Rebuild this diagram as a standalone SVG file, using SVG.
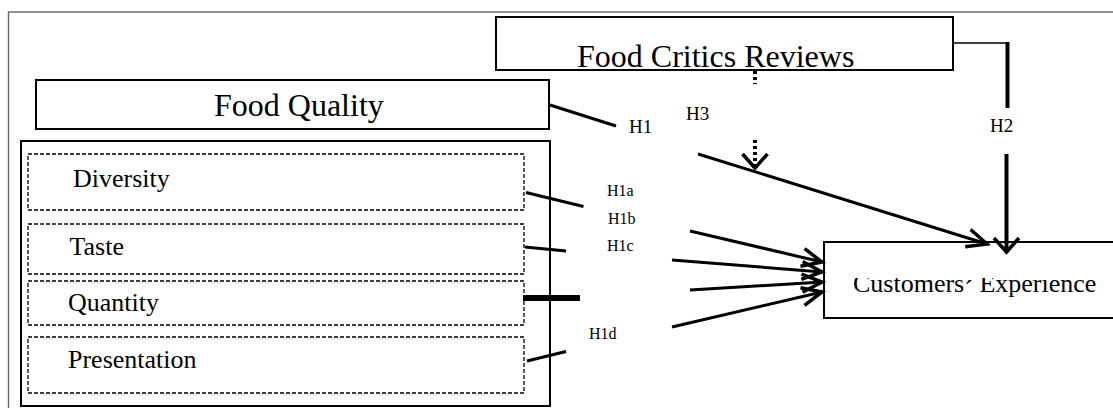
<svg xmlns="http://www.w3.org/2000/svg" width="1113" height="408" viewBox="0 0 1113 408">
<style>
.box{fill:#fff;stroke:#000;stroke-width:2}
.dash{fill:none;stroke:#000;stroke-width:1.3;stroke-dasharray:4 2}
.t32{font-family:"Liberation Serif","Times New Roman",serif;font-size:32px;fill:#000}
.t26{font-family:"Liberation Serif","Times New Roman",serif;font-size:26px;fill:#000}
.h19{font-family:"Liberation Serif","Times New Roman",serif;font-size:19px;fill:#000}
.h16{font-family:"Liberation Serif","Times New Roman",serif;font-size:16px;fill:#000}
.ln{fill:none;stroke:#000;stroke-width:3}
</style>
<defs>
<marker id="arr" viewBox="-24 -14 28 28" markerWidth="28" markerHeight="28" refX="0" refY="0" orient="auto" markerUnits="userSpaceOnUse">
<path d="M-20,-9 L0,0 L-20,9" fill="none" stroke="#000" stroke-width="3.5" stroke-linejoin="miter"/>
</marker>
<marker id="arrW" viewBox="-24 -16 28 32" markerWidth="28" markerHeight="32" refX="0" refY="0" orient="auto" markerUnits="userSpaceOnUse">
<path d="M-14,-12.5 L0,0 L-14,12.5" fill="none" stroke="#000" stroke-width="3.5" stroke-linejoin="miter"/>
</marker>
<clipPath id="ceClip"><rect x="824" y="278" width="300" height="45"/></clipPath>
</defs>
<rect width="1113" height="408" fill="#fff"/>
<rect x="8.5" y="12" width="1200" height="500" fill="none" stroke="#666" stroke-width="1.4"/>

<g id="food-critics-reviews">
<rect class="box" x="496" y="17" width="457" height="53"/>
<text class="t32" x="577" y="67">Food Critics Reviews</text>
</g>
<g id="food-quality">
<rect class="box" x="36" y="80" width="513" height="49"/>
<text class="t32" x="214" y="116">Food Quality</text>
</g>
<g id="food-quality-dimensions">
<rect class="box" x="21" y="141" width="529" height="265" stroke-width="2.5"/>
</g>
<g id="diversity">
<rect class="dash" x="28" y="154" width="496" height="56"/>
<text class="t26" x="73" y="187">Diversity</text>
</g>
<g id="taste">
<rect class="dash" x="28" y="224" width="496" height="50"/>
<text class="t26" x="69.5" y="255">Taste</text>
</g>
<g id="quantity">
<rect class="dash" x="28" y="281" width="496" height="44"/>
<text class="t26" x="68" y="311">Quantity</text>
</g>
<g id="presentation">
<rect class="dash" x="28" y="337" width="496" height="56"/>
<text class="t26" x="68" y="368">Presentation</text>
</g>
<g id="customers-experience">
<rect class="box" x="824" y="242" width="300" height="76" stroke-width="2.3"/>
<text class="t26" x="853" y="292" clip-path="url(#ceClip)">Customers<tspan dy="6">´</tspan><tspan dy="-6"> Experience</tspan></text>
</g>

<g id="connectors">
<!-- H1 -->
<line class="ln" x1="550" y1="105" x2="616" y2="126"/>
<line class="ln" x1="698" y1="154" x2="987" y2="244" marker-end="url(#arr)"/>
<!-- H2 -->
<polyline fill="none" stroke="#000" stroke-width="1.6" points="953,43 1007,43"/>
<line stroke="#000" stroke-width="4" x1="1007.5" y1="42" x2="1007.5" y2="108"/>
<line stroke="#000" stroke-width="4" x1="1006.5" y1="154" x2="1006.5" y2="252" marker-end="url(#arrW)"/>
<!-- H3 -->
<line stroke="#000" stroke-width="4" stroke-dasharray="3 3" x1="755" y1="71" x2="755" y2="84"/>
<line stroke="#000" stroke-width="4" stroke-dasharray="3 3" x1="755" y1="140" x2="755" y2="168" marker-end="url(#arrW)"/>
<!-- sub-dimension stubs -->
<line class="ln" x1="526" y1="192.5" x2="583.5" y2="206.5"/>
<line class="ln" x1="525" y1="247" x2="566" y2="251"/>
<line stroke="#000" stroke-width="6" x1="523" y1="298" x2="580" y2="298"/>
<line class="ln" x1="527" y1="361" x2="566" y2="351.5"/>
<!-- arrows into Customers' Experience -->
<line class="ln" x1="690" y1="231" x2="822" y2="262" marker-end="url(#arr)"/>
<line class="ln" x1="672" y1="260" x2="822" y2="272" marker-end="url(#arr)"/>
<line class="ln" x1="690" y1="290" x2="822" y2="282" marker-end="url(#arr)"/>
<line class="ln" x1="672" y1="327" x2="822" y2="292" marker-end="url(#arr)"/>
</g>

<g id="labels">
<text class="h19" x="629" y="133">H1</text>
<text class="h19" x="686" y="120">H3</text>
<text class="h19" x="990" y="132">H2</text>
<text class="h16" x="607" y="196">H1a</text>
<text class="h16" x="608" y="224">H1b</text>
<text class="h16" x="607" y="251">H1c</text>
<text class="h16" x="589" y="339">H1d</text>
</g>
</svg>
